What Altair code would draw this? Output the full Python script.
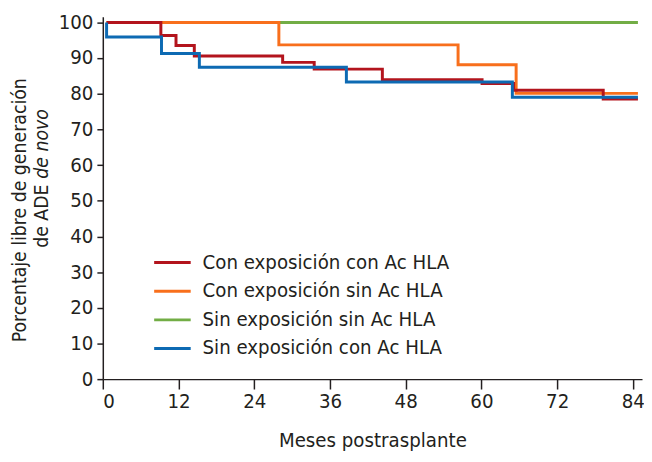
import altair as alt
import pandas as pd

# ---- data ----
series = ["Con exposición con Ac HLA", "Con exposición sin Ac HLA",
          "Sin exposición sin Ac HLA", "Sin exposición con Ac HLA"]
colors = ["#b3141d", "#f86f1c", "#72ad45", "#0d6ab3"]

t_red = [0.6, 9.2, 11.6, 14.5, 28.5, 33.5, 44.3, 60.1, 65.1, 79.3, 84.8]
s_red = [100, 96.3, 93.5, 90.6, 88.8, 86.9, 83.9, 82.9, 81.0, 78.5, 78.5]
t_orange = [0.6, 27.9, 56.3, 65.5, 84.8]
s_orange = [100, 93.7, 88.1, 80.1, 80.1]
t_green = [0.6, 84.8]
s_green = [100, 100]
t_blue = [0.6, 0.6, 9.3, 15.3, 38.6, 64.9, 84.8]
s_blue = [100, 95.9, 91.3, 87.4, 83.3, 79.0, 79.0]

x_ticks = [0, 12, 24, 36, 48, 60, 72, 84]
y_ticks = [0, 10, 20, 30, 40, 50, 60, 70, 80, 90, 100]

FONT = "DejaVu Sans Condensed"
INK = "#231f20"
FS = 20.5

rows = []
for name, ts, ss in [(series[2], t_green, s_green), (series[1], t_orange, s_orange),
                     (series[0], t_red, s_red), (series[3], t_blue, s_blue)]:
    for i, (t, s) in enumerate(zip(ts, ss)):
        rows.append({"serie": name, "mes": t, "pct": s, "i": i})
df = pd.DataFrame(rows)

color_scale = alt.Scale(domain=series, range=colors)

lines = alt.Chart(df).mark_line(interpolate="step-after", strokeWidth=3).encode(
    x=alt.X("mes:Q", scale=alt.Scale(domain=[0, 85.45], nice=False, zero=False),
            axis=alt.Axis(values=x_ticks, title="Meses postrasplante", tickSize=10,
                          labelPadding=3, titlePadding=19, format="d")),
    y=alt.Y("pct:Q", scale=alt.Scale(domain=[0, 101.6], nice=False),
            axis=alt.Axis(values=y_ticks, title=None, tickSize=6, labelPadding=4, format="d")),
    color=alt.Color("serie:N", scale=color_scale, legend=None),
    detail="serie:N",
    order="i:Q",
)

leg_df = pd.DataFrame({"serie": series})
leg_y = alt.Y("serie:N", sort=series, scale=alt.Scale(type="point", range=[249, 336], padding=0), axis=None)
leg_rules = alt.Chart(leg_df).mark_rule(strokeWidth=3).encode(
    x=alt.value(52), x2=alt.value(89), y=leg_y,
    color=alt.Color("serie:N", scale=color_scale, legend=None),
)
leg_text = alt.Chart(leg_df).mark_text(align="left", baseline="middle", font=FONT,
                                        fontSize=FS, color=INK).encode(
    x=alt.value(101), y=leg_y, text="serie:N",
)
legend = alt.layer(leg_rules, leg_text)

tdf1 = pd.DataFrame({"t": ["Porcentaje libre de generación"]})
title1 = alt.Chart(tdf1).mark_text(angle=270, align="center", baseline="middle",
                                   font=FONT, fontSize=19.5, color=INK).encode(
    x=alt.value(-84), y=alt.value(196), text="t:N")
tdf2 = pd.DataFrame({"t": ["de ADE"]})
title2 = alt.Chart(tdf2).mark_text(angle=270, align="right", baseline="middle",
                                   font=FONT, fontSize=19.5, color=INK).encode(
    x=alt.value(-62), y=alt.value(170), text="t:N")
tdf3 = pd.DataFrame({"t": ["de novo"]})
title3 = alt.Chart(tdf3).mark_text(angle=270, align="left", baseline="middle",
                                   font=FONT, fontSize=19.5, fontStyle="italic", color=INK).encode(
    x=alt.value(-62), y=alt.value(164), text="t:N")

chart = alt.layer(lines, legend, title1, title2, title3).resolve_scale(
    y="independent"
).properties(
    width=546, height=367,
    autosize=alt.AutoSizeParams(type="none"),
    padding={"left": 96, "top": 6, "right": 2, "bottom": 73},
).configure_view(stroke=None).configure_axis(
    grid=False, domainColor=INK, domainWidth=1.5, tickColor=INK, tickWidth=1.5,
    labelFont=FONT, labelFontSize=FS, labelColor=INK,
    titleFont=FONT, titleFontSize=FS, titleColor=INK, titleFontWeight="normal",
)

chart.save("out.html", embed_options={"renderer": "svg", "actions": False})
